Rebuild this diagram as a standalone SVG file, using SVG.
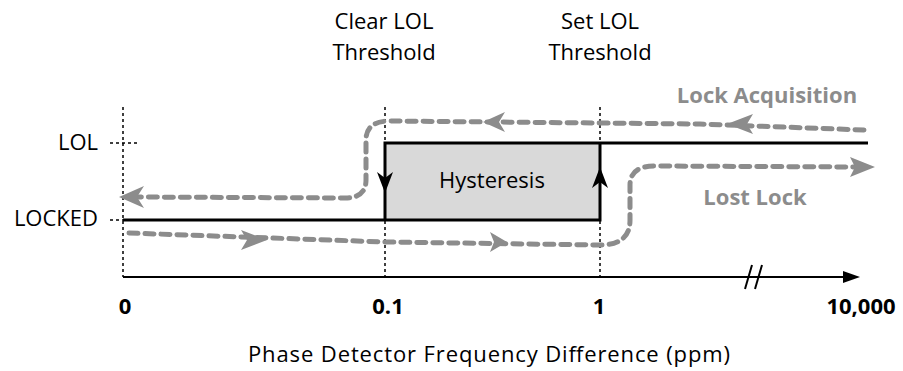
<svg xmlns="http://www.w3.org/2000/svg" width="903" height="371" viewBox="0 0 903 371">
<style>
text{font-family:"Open Sans","Liberation Sans",sans-serif;fill:#000}
.lbl{font-size:22px}
.ax{font-size:22px;font-weight:bold}
.gl{font-size:22px;font-weight:bold;fill:#8c8c8c}
.dot{stroke:#000;stroke-width:1.5;stroke-dasharray:3 3;fill:none}
.blk{stroke:#000;stroke-width:3;fill:none}
.gry{stroke:#8c8c8c;stroke-width:5;stroke-dasharray:9 7;stroke-linecap:round;fill:none}
.gah{fill:#8c8c8c}
</style>
<rect width="903" height="371" fill="#fff"/>
<g id="guides">
<line class="dot" x1="123" y1="107" x2="123" y2="277"/>
<line class="dot" x1="385" y1="107" x2="385" y2="277"/>
<line class="dot" x1="600" y1="107" x2="600" y2="277"/>
<line class="dot" x1="110" y1="143" x2="137" y2="143"/>
<line class="dot" x1="110" y1="220" x2="123" y2="220"/>
</g>
<g id="axis">
<line x1="123" y1="277" x2="848" y2="277" stroke="#000" stroke-width="2"/>
<polygon points="860,277 843,271 843,283" fill="#000"/>
<line x1="745" y1="289" x2="752" y2="265" stroke="#000" stroke-width="2"/>
<line x1="755" y1="289" x2="762" y2="265" stroke="#000" stroke-width="2"/>
<text class="ax" x="125" y="314" text-anchor="middle">0</text>
<text class="ax" x="388" y="314" text-anchor="middle">0.1</text>
<text class="ax" x="599" y="314" text-anchor="middle">1</text>
<text class="ax" x="861" y="314" text-anchor="middle">10,000</text>
<text class="lbl" x="489" y="362" text-anchor="middle" textLength="482" lengthAdjust="spacing">Phase Detector Frequency Difference (ppm)</text>
</g>
<g id="level-labels">
<text class="lbl" x="98" y="150" text-anchor="end">LOL</text>
<text class="lbl" x="98" y="226" text-anchor="end">LOCKED</text>
</g>
<g id="thresholds">
<text class="lbl" x="384" y="29" text-anchor="middle">Clear LOL</text>
<text class="lbl" x="384" y="60" text-anchor="middle">Threshold</text>
<text class="lbl" x="600" y="29" text-anchor="middle">Set LOL</text>
<text class="lbl" x="600" y="60" text-anchor="middle">Threshold</text>
</g>
<g id="hysteresis">
<rect x="385" y="143" width="215" height="77" fill="#d9d9d9"/>
<path class="blk" d="M123,220 H385 V143 H600 V220 H385 M600,143 H868"/>
<polygon points="385,193 377,172 385,178 393,172" fill="#000"/>
<polygon points="600,167 592,188 600,182 608,188" fill="#000"/>
<text class="lbl" x="492" y="188" text-anchor="middle">Hysteresis</text>
</g>
<g id="connectors">
<path class="gry" d="M864,130 L700,124 L390,121 Q366,121 366,140 L366,180 Q366,198 345,198 L135,197"/>
<polygon class="gah" points="119,197 144,186 137,197 144,208"/>
<polygon class="gah" points="483,122 505,112 499,122 505,132"/>
<polygon class="gah" points="727,124 753,114 747,124 753,134"/>
<path class="gry" d="M129,233 L385,242 L600,245 Q630,245 630,220 L630,185 Q630,166 655,166 L860,167"/>
<polygon class="gah" points="267,240 241,230 247,240 241,250"/>
<polygon class="gah" points="507,242 490,232 494,242 490,252"/>
<polygon class="gah" points="875,167 850,157 855,167 850,177"/>
<text class="gl" x="767" y="103" text-anchor="middle">Lock Acquisition</text>
<text class="gl" x="755" y="205" text-anchor="middle">Lost Lock</text>
</g>
</svg>
